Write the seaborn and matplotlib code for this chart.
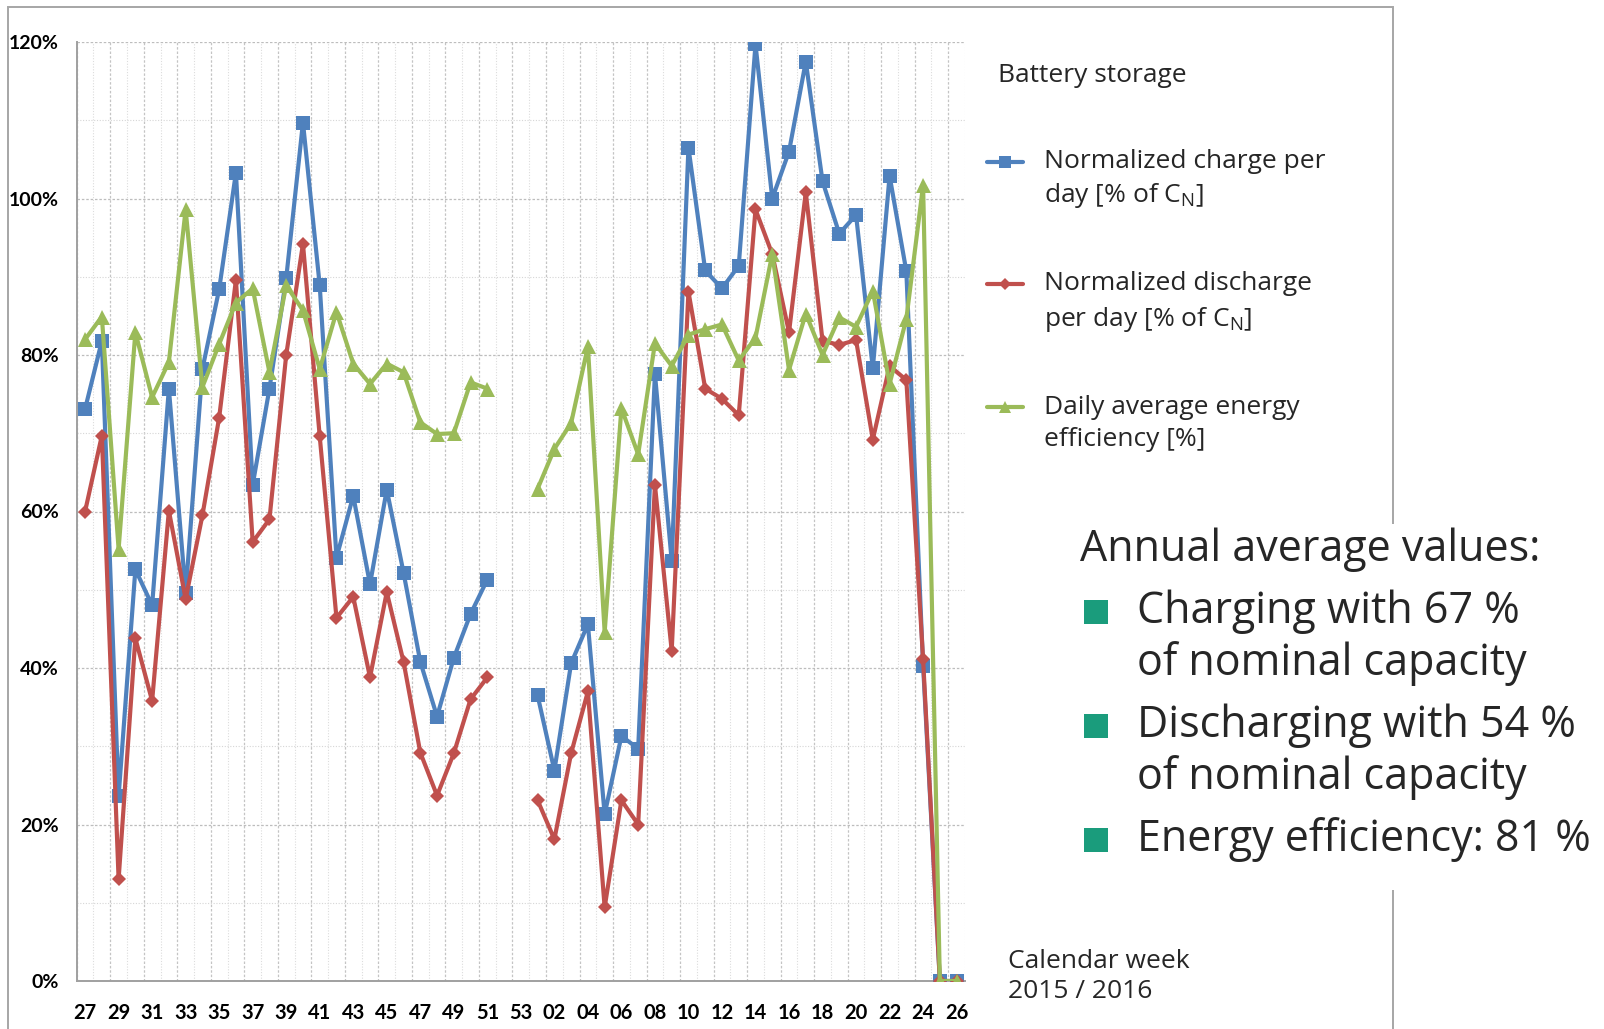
import numpy as np
import pandas as pd
import seaborn as sns
import matplotlib.pyplot as plt
from matplotlib.patches import Rectangle
from matplotlib.lines import Line2D

nan = np.nan

# calendar weeks 27/2015 .. 26/2016
weeks = list(range(27, 54)) + list(range(1, 27))

charge = [73.1, 81.8, 23.6, 52.6, 48.0, 75.7, 49.6, 78.2, 88.4, 103.3, 63.4, 75.7, 89.8,
          109.7, 88.9, 54.1, 62.0, 50.7, 62.8, 52.2, 40.8, 33.8, 41.3, 46.9, 51.3, nan, nan,
          36.5, 26.9, 40.6, 45.6, 21.3, 31.3, 29.7, 77.6, 53.7, 106.5, 90.8, 88.5, 91.4,
          119.7, 100.0, 106.0, 117.5, 102.2, 95.5, 97.9, 78.3, 102.9, 90.7, 40.3, 0.0, 0.0]
discharge = [60.0, 69.7, 13.0, 43.8, 35.8, 60.1, 48.8, 59.5, 72.0, 89.6, 56.1, 59.0, 80.0,
             94.2, 69.6, 46.4, 49.1, 38.8, 49.7, 40.8, 29.2, 23.7, 29.1, 36.0, 38.8, nan, nan,
             23.1, 18.1, 29.1, 37.0, 9.4, 23.1, 20.0, 63.4, 42.2, 88.1, 75.7, 74.4, 72.3,
             98.6, 92.9, 82.9, 100.8, 81.8, 81.3, 81.9, 69.2, 78.6, 76.8, 41.1, 0.0, 0.0]
efficiency = [82.0, 84.9, 55.2, 82.9, 74.6, 79.1, 98.6, 75.9, 81.4, 86.7, 88.5, 77.8, 88.9,
              85.7, 78.2, 85.5, 78.9, 76.3, 78.9, 77.8, 71.4, 69.9, 70.0, 76.5, 75.7, nan, nan,
              62.9, 68.0, 71.3, 81.1, 44.6, 73.2, 67.3, 81.5, 78.6, 82.6, 83.3, 83.9, 79.3,
              82.2, 92.9, 78.1, 85.3, 80.0, 84.8, 83.6, 88.2, 76.3, 84.6, 101.7, 0.0, 0.0]

tick_labels = ["%02d" % w for w in weeks[::2]]

series_names = ["charge", "discharge", "efficiency"]
colors = {"charge": "#4F81BD", "discharge": "#C0504D", "efficiency": "#9BBB59"}
markers = {"charge": "s", "discharge": "D", "efficiency": "^"}
msizes = {"charge": 9.6, "discharge": 7.2, "efficiency": 10.8}

pos = np.arange(len(weeks))
segment = np.where(pos < 25, 0, 1)   # no data for weeks 52/53
frames = []
for name, vals in zip(series_names, [charge, discharge, efficiency]):
    frames.append(pd.DataFrame({"pos": pos, "value": vals, "series": name, "segment": segment}))
df = pd.concat(frames).dropna()

W, H = 1604, 1029
fx = lambda px: px / W
fy = lambda py: 1 - py / H

sns.set_style("white")
plt.rcParams["font.family"] = ["Open Sans", "DejaVu Sans"]
plt.rcParams["mathtext.fontset"] = "custom"
plt.rcParams["mathtext.rm"] = "Open Sans"

fig = plt.figure(figsize=(W / 100, H / 100), dpi=100)
ax = fig.add_axes([fx(76.7), fy(981), fx(965) - fx(76.7), fy(42) - fy(981)])

for name in series_names:
    sub = df[df.series == name]
    sns.lineplot(data=sub, x="pos", y="value", units="segment", estimator=None,
                 color=colors[name], marker=markers[name], markersize=msizes[name],
                 markeredgewidth=0, linewidth=3.0, ax=ax, zorder=3)

ax.set_xlim(-0.5, len(weeks) - 0.5)
ax.set_ylim(0, 120)
ax.set_xlabel("")
ax.set_ylabel("")

tick_font = ["Lato", "DejaVu Sans"]
ax.set_xticks(pos[::2])
ax.set_xticklabels(tick_labels, fontsize=14.5, fontweight="bold", family=tick_font)
ax.set_xticks(np.arange(-0.5, len(weeks) - 0.5, 2), minor=True)
ax.set_yticks(np.arange(0, 121, 20))
ax.set_yticklabels(["%d%%" % v for v in range(0, 121, 20)], fontsize=14,
                   fontweight="bold", family=tick_font)
ax.set_yticks(np.arange(10, 120, 20), minor=True)

ax.tick_params(axis="x", which="major", length=0, pad=16, colors="black")
ax.tick_params(axis="x", which="minor", length=6, width=1.2, color="#A0A0A0", direction="out")
ax.tick_params(axis="y", which="major", length=5, width=1.2, color="#A0A0A0", pad=8,
               direction="out", labelcolor="black")
ax.tick_params(axis="y", which="minor", length=0)

ax.grid(False)
ax.grid(which="major", axis="y", color="#BDBDBD", linestyle=(0, (2, 1.5)), linewidth=0.9, zorder=0)
ax.grid(which="minor", axis="y", color="#D6D6D6", linestyle=(0, (1, 1.5)), linewidth=0.8, zorder=0)
ax.grid(which="minor", axis="x", color="#C4C4C4", linestyle=(0, (2, 1.5)), linewidth=0.9, zorder=0)
for b in np.arange(0.5, len(weeks), 2):
    ax.axvline(b, color="#DCDCDC", linestyle=(0, (1, 1.5)), linewidth=0.8, zorder=0)
ax.set_axisbelow(True)

for s in ["top", "right"]:
    ax.spines[s].set_visible(False)
for s in ["left", "bottom"]:
    ax.spines[s].set_color("#A0A0A0")
    ax.spines[s].set_linewidth(1.4)

# outer frame and the white box that interrupts it
fig.add_artist(Rectangle((fx(8), -0.05), fx(1393) - fx(8), fy(7) + 0.05, transform=fig.transFigure,
                         fill=False, edgecolor="#A6A6A6", linewidth=1.4, zorder=1))
fig.add_artist(Rectangle((fx(1070), fy(890)), 1 - fx(1070), fy(524) - fy(890),
                         transform=fig.transFigure, facecolor="white", edgecolor="none", zorder=2))

# legend
lg_size = 19
fig.text(fx(998), fy(76), "Battery storage", fontsize=lg_size, va="center", ha="left")
legend_rows = [
    ("charge", 162, ["Normalized charge per", "day [% of C$_\\mathrm{N}$]"], 195),
    ("discharge", 284, ["Normalized discharge", "per day [% of C$_\\mathrm{N}$]"], 319),
    ("efficiency", 407, ["Daily average energy", "efficiency [%]"], 439),
]
for name, y1, lines, y2 in legend_rows:
    fig.add_artist(Line2D([fx(987), fx(1023)], [fy(y1), fy(y1)], transform=fig.transFigure,
                          color=colors[name], linewidth=3.0))
    fig.add_artist(Line2D([fx(1005)], [fy(y1)], transform=fig.transFigure, color=colors[name],
                          marker=markers[name], markersize=msizes[name] * 0.85, markeredgewidth=0))
    fig.text(fx(1044), fy(y1), lines[0], fontsize=lg_size, va="center", ha="left")
    fig.text(fx(1044), fy(y2), lines[1], fontsize=lg_size, va="center", ha="left")

# annual averages
big = 31
fig.text(fx(1080), fy(550), "Annual average values:", fontsize=big, va="center", ha="left", zorder=3)
bullets = [(612, ["Charging with 67 %", "of nominal capacity"], 664),
           (726, ["Discharging with 54 %", "of nominal capacity"], 778),
           (840, ["Energy efficiency: 81 %"], None)]
for yb, lines, y2 in bullets:
    fig.add_artist(Rectangle((fx(1084), fy(yb + 12)), fx(24), 24 / H, transform=fig.transFigure,
                             facecolor="#1A9C7C", edgecolor="none", zorder=3))
    fig.text(fx(1137), fy(yb), lines[0], fontsize=big, va="center", ha="left", zorder=3)
    if y2 is not None:
        fig.text(fx(1137), fy(y2), lines[1], fontsize=big, va="center", ha="left", zorder=3)

fig.text(fx(1008), fy(962), "Calendar week", fontsize=19, va="center", ha="left")
fig.text(fx(1008), fy(991), "2015 / 2016", fontsize=19, va="center", ha="left")

fig.savefig("out.png", dpi=100)
